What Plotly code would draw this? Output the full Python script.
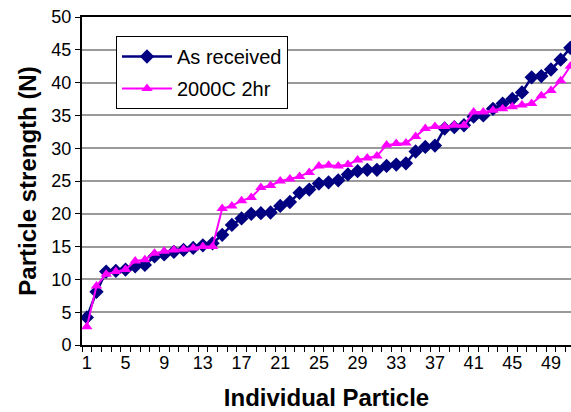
import plotly.graph_objects as go

particles = list(range(1, 52))
as_received = [4.2, 8.1, 11.2, 11.3, 11.5, 12.0, 12.2, 13.5, 13.8, 14.2,
               14.5, 14.8, 15.2, 15.5, 16.8, 18.3, 19.3, 20.0, 20.1, 20.2,
               21.2, 21.8, 23.2, 23.7, 24.6, 24.8, 25.1, 26.0, 26.5, 26.7,
               26.7, 27.3, 27.5, 27.7, 29.5, 30.2, 30.4, 33.0, 33.2, 33.5,
               34.8, 35.0, 36.0, 36.8, 37.5, 38.5, 40.8, 41.0, 42.0, 43.5,
               45.3]
treated_2000c = [2.8, 9.0, 10.8, 11.2, 11.5, 12.8, 13.0, 14.0, 14.3, 14.5,
                 14.6, 14.8, 15.0, 15.0, 20.8, 21.2, 22.0, 22.5, 24.0, 24.3,
                 25.0, 25.3, 25.7, 26.3, 27.3, 27.4, 27.3, 27.5, 28.2, 28.5,
                 28.8, 30.5, 30.7, 30.8, 31.8, 33.0, 33.3, 33.3, 33.5, 33.5,
                 35.5, 35.5, 35.8, 36.0, 36.3, 36.6, 36.8, 38.0, 38.8, 40.3,
                 42.5]
x_tick_labels = [1, 5, 9, 13, 17, 21, 25, 29, 33, 37, 41, 45, 49]
y_ticks = [0, 5, 10, 15, 20, 25, 30, 35, 40, 45, 50]

fig = go.Figure()
fig.add_trace(go.Scatter(
    x=particles, y=as_received, name="As received", mode="lines+markers",
    legendgroup="a",
    line=dict(color="#000080", width=2.5),
    marker=dict(symbol="diamond", size=11, color="#000080"),
))
fig.add_trace(go.Scatter(
    x=particles, y=treated_2000c, name="2000C 2hr", mode="lines+markers",
    legendgroup="b",
    line=dict(color="#FF00FF", width=2),
    marker=dict(symbol="triangle-up", size=10, color="#FF00FF"),
))

fig.update_layout(
    width=571, height=412,
    margin=dict(l=82, r=0, t=17, b=67),
    paper_bgcolor="white", plot_bgcolor="white",
    font=dict(family="Liberation Sans, Arial, sans-serif", size=18, color="black"),
    showlegend=True,
    legend=dict(
        x=0.0695, y=0.942, xanchor="left", yanchor="top",
        bgcolor="white", bordercolor="black", borderwidth=1,
        font=dict(size=20), tracegroupgap=3, itemwidth=50,
    ),
    xaxis=dict(
        range=[0.5, 51.07], automargin=False,
        tickmode="array", tickvals=x_tick_labels,
        ticks="", showgrid=False, zeroline=False,
        showline=True, linecolor="black", linewidth=2, mirror=True,
        tickfont=dict(size=18),
        minor=dict(tick0=0.5, dtick=1, ticks="outside", ticklen=5,
                   tickcolor="black", tickwidth=1, showgrid=False),
        title=dict(text="<b>Individual Particle</b>", font=dict(size=24), standoff=18),
    ),
    yaxis=dict(
        range=[0, 50], automargin=False,
        tickmode="array", tickvals=y_ticks,
        ticks="outside", ticklen=5, tickcolor="black",
        showgrid=True, gridcolor="#9a9a9a", gridwidth=1.5, zeroline=False,
        showline=True, linecolor="black", linewidth=2,
        tickfont=dict(size=18),
        title=dict(text="<b>Particle strength (N)</b>", font=dict(size=24), standoff=8),
    ),
)

fig.write_html(
    "out.html",
    config={"displayModeBar": False},
    post_script="document.body.style.margin='0';document.body.style.overflow='hidden';",
)
